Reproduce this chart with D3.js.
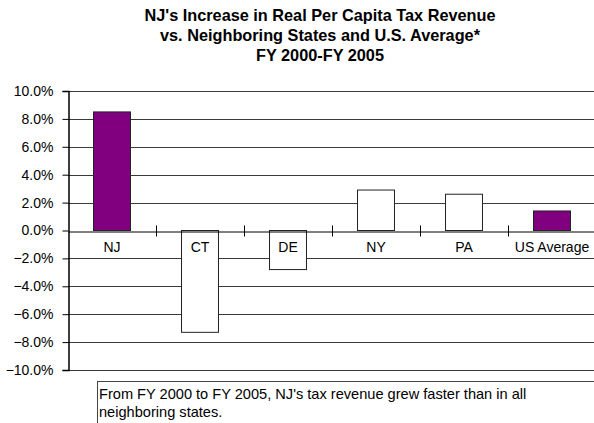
<!DOCTYPE html>
<html>
<head>
<meta charset="utf-8">
<script src="https://cdn.jsdelivr.net/npm/d3@7/dist/d3.min.js"></script>
<style>
  html, body { margin: 0; padding: 0; background: #fff; }
  svg { display: block; font-family: "Liberation Sans", Arial, sans-serif; }
</style>
</head>
<body>
<svg id="chart" width="594" height="423"></svg>
<script>
// Real per capita tax revenue growth, FY 2000 to FY 2005 (percent)
const states = ["NJ", "CT", "DE", "NY", "PA", "US Average"];
const growth = [8.5, -7.3, -2.8, 2.9, 2.6, 1.4];
const highlighted = [true, false, false, false, false, true];
const yTicks = [10, 8, 6, 4, 2, 0, -2, -4, -6, -8, -10];
const titleLines = [
  "NJ's Increase in Real Per Capita Tax Revenue",
  "vs. Neighboring States and U.S. Average*",
  "FY 2000-FY 2005"
];
const noteLines = [
  "From FY 2000 to FY 2005, NJ's tax revenue grew faster than in all",
  "neighboring states."
];

(function () {
  const svg = d3.select("#chart");
  const plotLeft = 68, plotRight = 596, plotTop = 91, plotBottom = 370;

  const x = d3.scaleBand().domain(states).range([plotLeft, plotRight]).paddingInner(0).paddingOuter(0);
  const y = d3.scaleLinear().domain([-10, 10]).range([plotBottom, plotTop]);

  // Title
  svg.append("g").selectAll("text").data(titleLines).join("text")
    .attr("x", 320).attr("y", (d, i) => 21 + i * 20)
    .attr("text-anchor", "middle")
    .attr("font-size", 16.3).attr("font-weight", "bold").attr("fill", "#000")
    .text(d => d);

  // Horizontal gridlines
  svg.append("g").selectAll("line").data(yTicks.filter(t => t !== 0)).join("line")
    .attr("x1", plotLeft).attr("x2", 594)
    .attr("y1", d => Math.round(y(d)) + 0.5).attr("y2", d => Math.round(y(d)) + 0.5)
    .attr("stroke", "#3a3a3a").attr("stroke-width", 1);

  // Value axis
  const yAxis = svg.append("g").attr("transform", `translate(${plotLeft + 0.5},0)`)
    .call(d3.axisLeft(y).tickValues(yTicks).tickSize(6).tickFormat(d => d3.format(".1f")(d) + "%"));
  yAxis.select(".domain").attr("stroke", "#000").attr("stroke-width", 1.5);
  yAxis.selectAll(".tick line").attr("stroke", "#000");
  yAxis.selectAll(".tick text")
    .attr("font-family", "Liberation Sans, Arial, sans-serif")
    .attr("font-size", 14).attr("fill", "#000").attr("x", -15);

  // Bars
  svg.append("g").selectAll("rect").data(states).join("rect")
    .attr("x", d => x(d) + x.bandwidth() * 0.29)
    .attr("width", x.bandwidth() * 0.42)
    .attr("y", (d, i) => y(Math.max(0, growth[i])))
    .attr("height", (d, i) => Math.abs(y(growth[i]) - y(0)))
    .attr("fill", (d, i) => highlighted[i] ? "#800080" : "#fff")
    .attr("stroke", "#222").attr("stroke-width", 1);

  // Category axis at zero
  const zeroY = Math.round(y(0)) + 0.5;
  const xAxis = svg.append("g").attr("transform", `translate(0,${zeroY})`)
    .call(d3.axisBottom(x).tickSize(0).tickPadding(11));
  xAxis.select(".domain").attr("stroke", "#000").attr("stroke-width", 1);
  xAxis.selectAll(".tick text")
    .attr("font-family", "Liberation Sans, Arial, sans-serif")
    .attr("font-size", 14).attr("fill", "#000");

  // Category separators crossing the zero line
  svg.append("g").selectAll("line").data(states.slice(1)).join("line")
    .attr("x1", d => Math.round(x(d)) + 0.5).attr("x2", d => Math.round(x(d)) + 0.5)
    .attr("y1", zeroY - 6).attr("y2", zeroY + 5)
    .attr("stroke", "#000");

  // Note box
  svg.append("rect")
    .attr("x", 97.5).attr("y", 381.5).attr("width", 520).attr("height", 60)
    .attr("fill", "#fff").attr("stroke", "#444");
  svg.append("g").selectAll("text").data(noteLines).join("text")
    .attr("x", 99).attr("y", (d, i) => 399 + i * 18)
    .attr("font-size", 14.6).attr("fill", "#000")
    .text(d => d);
})();
</script>
</body>
</html>
